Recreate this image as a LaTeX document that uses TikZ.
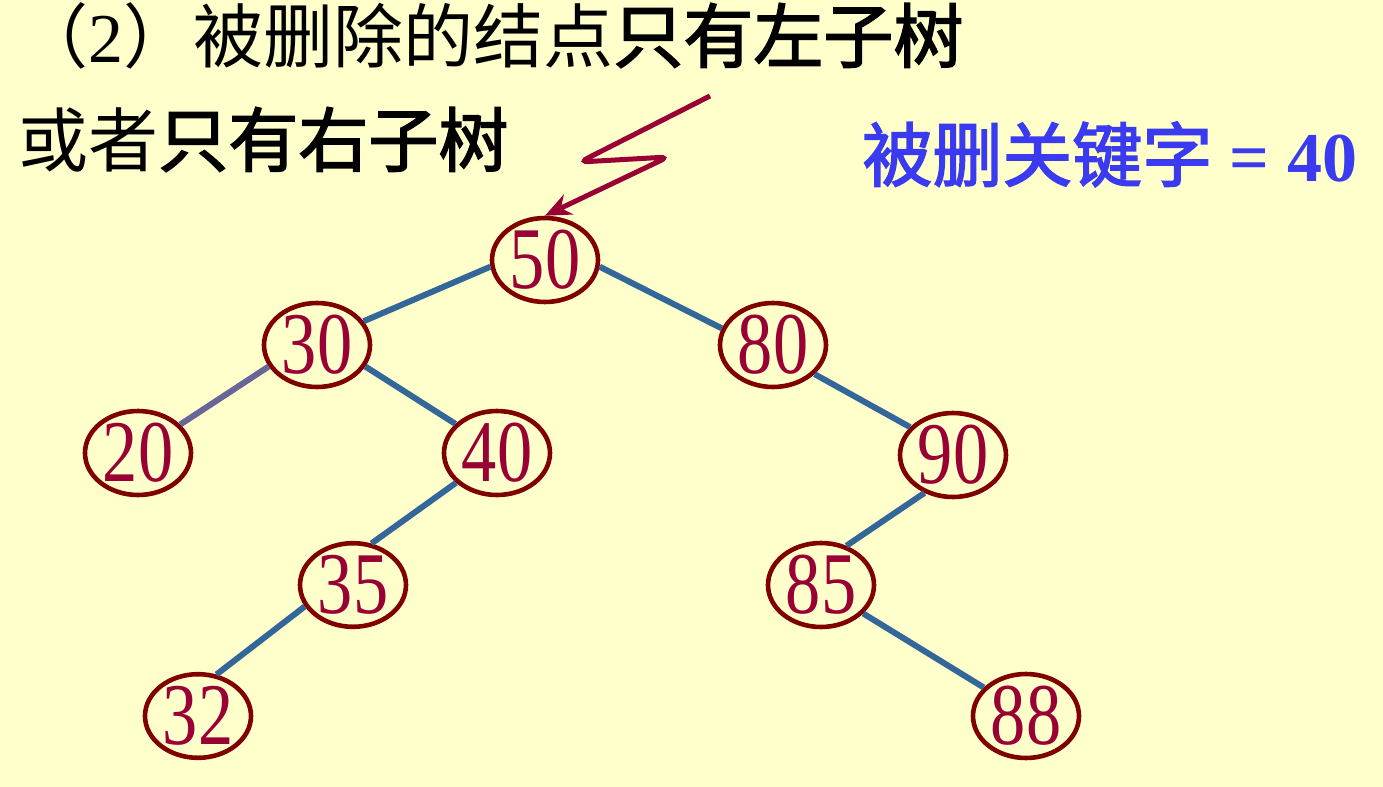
\documentclass[tikz,border=0pt]{standalone}
\usepackage{fontspec}
\setmainfont{Liberation Serif}
\newfontfamily\cjk{Noto Sans CJK SC}
\newfontfamily\cjkbold[FakeBold=2.2]{Noto Sans CJK SC}
\newfontfamily\keyfont[FakeStretch=0.8]{Liberation Serif}
\usetikzlibrary{shapes.geometric,arrows.meta,positioning}

\definecolor{paper}{RGB}{255,255,204}
\definecolor{ringred}{RGB}{128,0,0}
\definecolor{keyred}{RGB}{153,0,51}
\definecolor{branchblue}{RGB}{51,102,153}
\definecolor{branchgrey}{RGB}{102,102,153}
\definecolor{noteblue}{RGB}{58,58,240}

\begin{document}
\begin{tikzpicture}[on grid,
   keynode/.style={ellipse,draw=ringred,line width=2.3pt,text=keyred,
      minimum width=53pt,minimum height=40.5pt,inner sep=0pt,
      font=\keyfont\fontsize{44pt}{44pt}\selectfont},
   branch/.style={draw=branchblue,line width=3pt},
   title/.style={anchor=base west,inner sep=0pt,
      font=\fontsize{35pt}{40pt}\selectfont}]
   \useasboundingbox[fill=paper] (0,0) rectangle (691.5pt,-393.5pt);

   % text
   \node[title] (line1) at (9pt,-31pt) {{\cjk （}2{\cjk ）被删除的结点}{\cjkbold 只有左子树}};
   \node[title] (line2) at (9pt,-83pt) {{\cjk 或者}{\cjkbold 只有右子树}};
   \node[title,text=noteblue] (note) at (431pt,-90.5pt) {{\cjkbold 被删关键字}\bfseries{} = 40};

   % tree
   \node[keynode] (n50) at (272.5pt,-130pt) {50};
   \node[keynode] (n30) [below left=42.5pt and 114pt of n50] {30};
   \node[keynode] (n80) [below right=42.5pt and 114pt of n50] {80};
   \node[keynode] (n20) [below left=54pt and 89.5pt of n30] {20};
   \node[keynode] (n40) [below right=54pt and 90pt of n30] {40};
   \node[keynode] (n90) [below right=55pt and 90pt of n80] {90};
   \node[keynode] (n35) [below left=66pt and 72pt of n40] {35};
   \node[keynode] (n85) [below left=65pt and 66pt of n90] {85};
   \node[keynode] (n32) [below left=65.5pt and 77.5pt of n35] {32};
   \node[keynode] (n88) [below right=65.5pt and 102.5pt of n85] {88};

   \path[branch]
   (n50.187) edge (n30.27)
   (n50.-7) edge (n80.162)
   (n30.204) edge [draw=branchgrey] (n20.34)
   (n30.-24) edge (n40.145)
   (n80.-35) edge (n90.147)
   (n40.216) edge (n35.66)
   (n35.204) edge (n32.66)
   (n90.233) edge (n85.57)
   (n85.-34) edge (n88.146);

   % zigzag pointer
   \coordinate (zz0) at (355pt,-48pt);
   \coordinate (zz1) at (290pt,-81pt);
   \coordinate (zz2) at (334pt,-78.5pt);
   \draw[keyred,line width=2.5pt,rounded corners=4pt,-{Stealth[length=13pt,width=11pt]}]
      (zz0) -- (zz1) -- (zz2) -- (n50.north);
\end{tikzpicture}
\end{document}
